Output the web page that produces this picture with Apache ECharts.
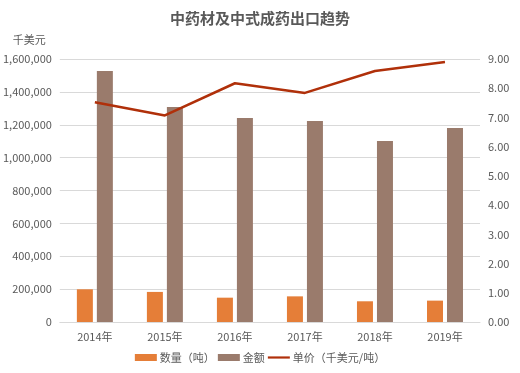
<!DOCTYPE html>
<html><head><meta charset="utf-8">
<script src="https://cdn.jsdelivr.net/npm/echarts@6/dist/echarts.min.js"></script>
<style>html,body{margin:0;padding:0;background:#fff}#c{width:520px;height:373px}</style>
</head><body><div id="c"></div>
<script>
const categories = ['2014年','2015年','2016年','2017年','2018年','2019年'];
const quantity = [199000, 183000, 148000, 156000, 126000, 130000];
const amount = [1527000, 1308000, 1241000, 1223000, 1101000, 1180000];
const unitPrice = [7.52, 7.07, 8.17, 7.84, 8.59, 8.90];
const leftTicks = {min: 0, max: 1600000, interval: 200000};
const rightTicks = {min: 0, max: 9, interval: 1};

const font = '"Microsoft YaHei","Noto Sans CJK SC",sans-serif';
const chart = echarts.init(document.getElementById('c'), null, {renderer: 'canvas'});
chart.setOption({
  animation: false,
  textStyle: {fontFamily: font},
  title: {text: '中药材及中式成药出口趋势', left: 'center', top: 6,
    textStyle: {fontSize: 15, fontWeight: 'bold', color: '#595959', fontFamily: font}},
  grid: {left: 56, right: 40, top: 59, bottom: 51},
  legend: {bottom: 5, left: 'center', itemGap: 3, itemWidth: 22, itemHeight: 7,
    textStyle: {fontSize: 11, color: '#595959', fontFamily: font, padding: [0, 0, 0, -2]},
    data: [{name: '数量（吨）', icon: 'rect'}, {name: '金额', icon: 'rect'},
           {name: '单价（千美元/吨）', icon: 'path://M0,0H30V3H0Z'}]},
  xAxis: {type: 'category', data: categories,
    axisLine: {lineStyle: {color: '#D9D9D9'}}, axisTick: {show: false},
    axisLabel: {color: '#595959', fontSize: 11, margin: 9}},
  yAxis: [
    {type: 'value', min: leftTicks.min, max: leftTicks.max, interval: leftTicks.interval,
     name: '千美元', nameLocation: 'end', nameGap: 14,
     nameTextStyle: {color: '#595959', fontSize: 11, align: 'right', padding: [0, 14, 0, 0]},
     axisLabel: {color: '#595959', fontSize: 11,
       formatter: v => v.toLocaleString('en-US')},
     splitLine: {lineStyle: {color: '#D9D9D9'}}, axisLine: {show: false}, axisTick: {show: false}},
    {type: 'value', min: rightTicks.min, max: rightTicks.max, interval: rightTicks.interval,
     axisLabel: {color: '#595959', fontSize: 11, formatter: v => v.toFixed(2)},
     splitLine: {show: false}, axisLine: {show: false}, axisTick: {show: false}}
  ],
  series: [
    {name: '数量（吨）', type: 'bar', data: quantity, barWidth: 16, barGap: '25%',
     itemStyle: {color: '#E57E38'}},
    {name: '金额', type: 'bar', data: amount, barWidth: 16,
     itemStyle: {color: '#9A7B6C'}},
    {name: '单价（千美元/吨）', type: 'line', yAxisIndex: 1, data: unitPrice,
     symbol: 'none', lineStyle: {color: '#B0300A', width: 2.5}, itemStyle: {color: '#B0300A'}}
  ]
});
</script></body></html>
